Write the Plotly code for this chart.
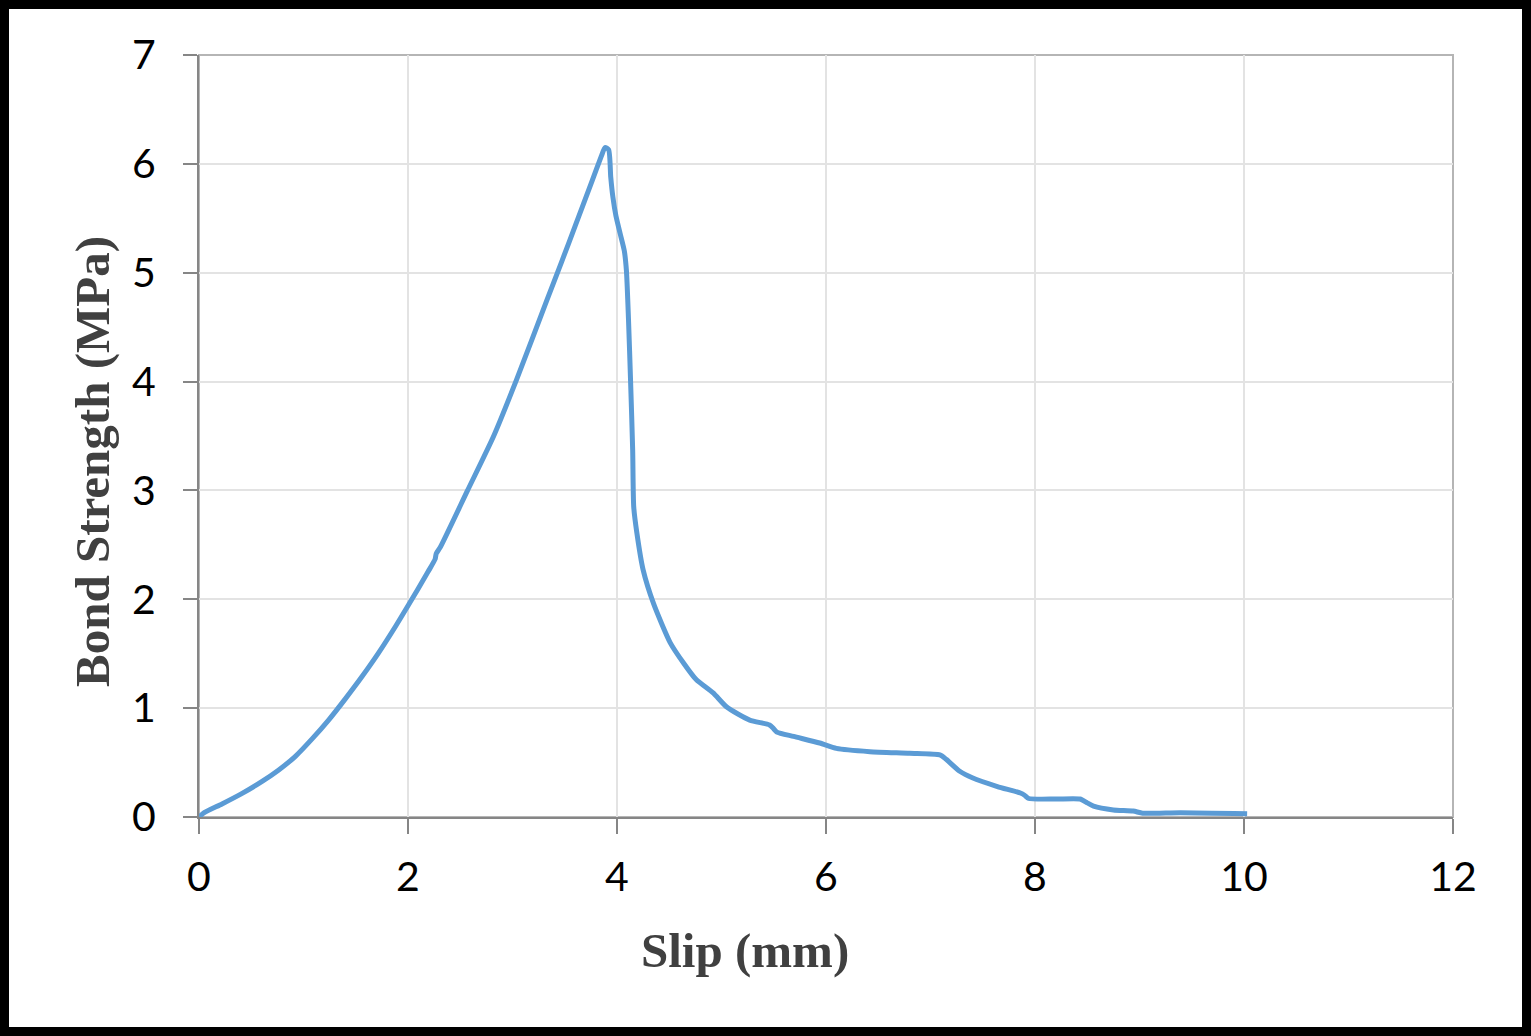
import plotly.graph_objects as go

slip = [0, 0.05, 0.22, 0.4, 0.6, 0.76, 0.92, 1.08, 1.24, 1.4, 1.56, 1.72, 1.88, 2.0, 2.19,
        2.26, 2.27, 2.31, 2.57, 2.82, 3.04, 3.33, 3.47, 3.6, 3.76, 3.85, 3.885, 3.92, 3.94,
        3.96, 3.99, 4.03, 4.07, 4.09, 4.11, 4.13, 4.15, 4.16, 4.19, 4.25, 4.35, 4.51, 4.64,
        4.76, 4.92, 5.05, 5.27, 5.46, 5.5, 5.53, 5.69, 5.94, 6.10, 6.42, 6.80, 7.09, 7.15,
        7.28, 7.4, 7.64, 7.86, 7.9, 7.94, 8.2, 8.43, 8.5, 8.56, 8.75, 8.94, 9.03, 9.39, 10.03]
strength = [0, 0.04, 0.12, 0.21, 0.325, 0.43, 0.555, 0.715, 0.89, 1.085, 1.29, 1.51, 1.75, 1.94,
            2.25, 2.37, 2.42, 2.48, 3.0, 3.5, 4.02, 4.75, 5.1, 5.43, 5.84, 6.07, 6.15, 6.13, 5.88,
            5.7, 5.52, 5.36, 5.2, 5.02, 4.57, 4.0, 3.37, 2.85, 2.61, 2.27, 1.96, 1.60, 1.41,
            1.26, 1.14, 1.01, 0.89, 0.845, 0.81, 0.78, 0.74, 0.68, 0.63, 0.60, 0.585, 0.57, 0.53,
            0.42, 0.36, 0.28, 0.22, 0.20, 0.17, 0.165, 0.165, 0.13, 0.10, 0.065, 0.055, 0.035, 0.04, 0.03]

x_ticks = [0, 2, 4, 6, 8, 10, 12]
y_ticks = [0, 1, 2, 3, 4, 5, 6, 7]

W, H = 1531, 1036
L, R, T, B = 199, 78, 55, 219
pw, ph = W - L - R, H - T - B

def px_x(p):
    return (p - L) / pw

def px_y(p):
    return (H - B - p) / ph

fig = go.Figure()
fig.add_trace(go.Scatter(x=slip, y=strength, mode="lines",
                         line=dict(color="#5B9BD5", width=5, shape="spline", smoothing=0.6),
                         showlegend=False, hoverinfo="skip"))

tickfont = dict(family="Lato, 'Open Sans', sans-serif", size=41, color="#000000")
fig.update_xaxes(range=[0, 12], tickvals=x_ticks, ticktext=[str(v) for v in x_ticks],
                 showgrid=True, gridcolor="#E3E3E3", gridwidth=1.5,
                 showline=True, linecolor="#868686", linewidth=2,
                 ticks="outside", ticklen=15, tickcolor="#868686", tickwidth=2,
                 ticklabelstandoff=8, tickfont=tickfont, zeroline=False)
fig.update_yaxes(range=[0, 7], tickvals=y_ticks, ticktext=[str(v) for v in y_ticks],
                 showgrid=True, gridcolor="#E3E3E3", gridwidth=1.5,
                 showline=True, linecolor="#868686", linewidth=2,
                 ticks="outside", ticklen=14, tickcolor="#868686", tickwidth=2,
                 ticklabelstandoff=19, tickfont=tickfont, zeroline=False)

shapes = [
    dict(type="rect", xref="paper", yref="paper", x0=0, x1=1, y0=0, y1=1,
         line=dict(color="#B5B5B5", width=2), layer="below"),
    dict(type="rect", xref="paper", yref="paper",
         x0=px_x(4.5), x1=px_x(W - 4.5), y0=px_y(H - 4.5), y1=px_y(4.5),
         line=dict(color="#000000", width=9)),
]

titlefont = dict(family="'Liberation Serif', 'Times New Roman', serif", size=49, color="#404040")
annotations = [
    dict(text="<b>Slip (mm)</b>", xref="paper", yref="paper", x=px_x(745), y=px_y(950),
         showarrow=False, font=titlefont, xanchor="center", yanchor="middle"),
    dict(text="<b>Bond Strength (MPa)</b>", xref="paper", yref="paper", x=px_x(92), y=px_y(462),
         showarrow=False, font=titlefont, textangle=-90, xanchor="center", yanchor="middle"),
]

fig.update_layout(width=W, height=H, margin=dict(l=L, r=R, t=T, b=B),
                  paper_bgcolor="white", plot_bgcolor="white",
                  shapes=shapes, annotations=annotations)

fig.write_html("out.html")
